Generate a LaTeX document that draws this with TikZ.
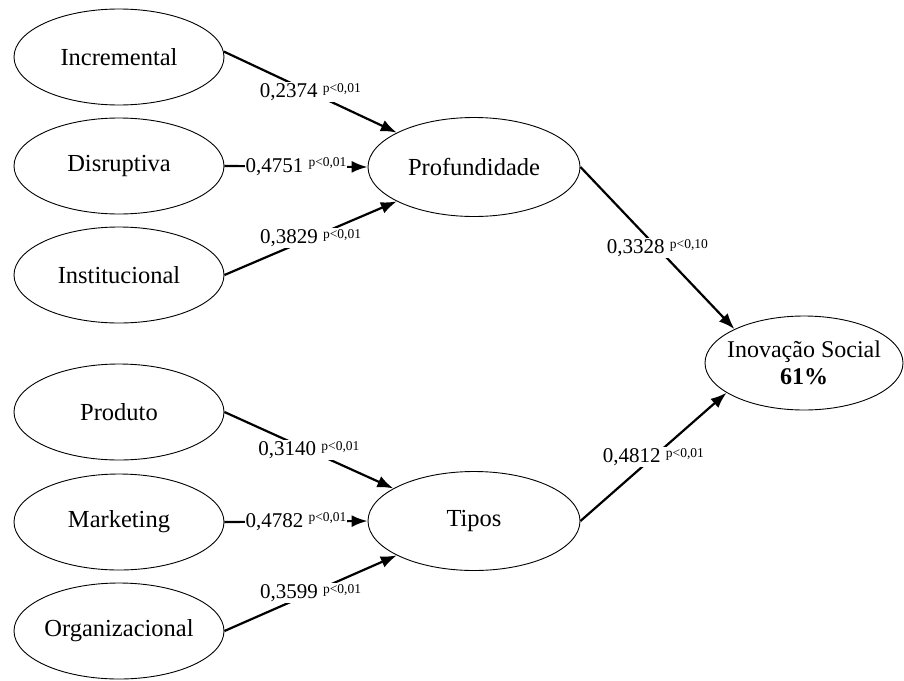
\documentclass[tikz,border=0pt]{standalone}
\usepackage{fontspec}
\setmainfont{Liberation Serif}
\usetikzlibrary{shapes.geometric,arrows.meta}
\begin{document}
\begin{tikzpicture}[x=1pt,y=-1pt,
  lat/.style={ellipse,draw=black,line width=0.9pt,minimum width=210pt,minimum height=96pt,inner xsep=-2pt,inner ysep=0pt,font=\fontsize{24.5}{28}\selectfont},
  mid/.style={ellipse,draw=black,line width=0.9pt,minimum width=212pt,minimum height=99pt,inner sep=0pt,font=\fontsize{24.5}{28}\selectfont},
  conn/.style={line width=2.2pt,-{Latex[length=16pt,width=12pt]}},
  coef/.style={fill=white,inner sep=1pt,font=\fontsize{21}{24}\selectfont}]
\useasboundingbox (0,0) rectangle (904,680);
\newcommand{\pv}[1]{\raisebox{0.55ex}{\fontsize{13.5}{13.5}\selectfont #1}}
\node[lat] (inc) at (119,57) {Incremental};
\node[lat] (dis) at (119,166) {Disruptiva};
\node[lat] (ins) at (119,275) {Institucional};
\node[lat] (prod) at (119,412) {Produto};
\node[lat] (mkt) at (119,522) {Marketing};
\node[lat] (org) at (119,631) {Organizacional};
\node[mid] (prof) at (474,167) {Profundidade};
\node[mid] (tip) at (474,521) {Tipos};
\node[ellipse,draw=black,line width=0.9pt,minimum width=198pt,minimum height=94pt,inner xsep=-8pt,inner ysep=0pt,align=center,font=\fontsize{24}{27}\selectfont] (ino) at (804,363) {Inovação Social\\\textbf{61\%}};
\draw[conn] (inc.3) -- node[coef,pos=0.5] {0,2374 \pv{p<0,01}} (prof.156);
\draw[conn] (dis.east) -- node[coef,pos=0.5] {0,4751 \pv{p<0,01}} (prof.west);
\draw[conn] (ins.east) -- node[coef,pos=0.5] {0,3829 \pv{p<0,01}} (prof.204);
\draw[conn] (prod.east) -- node[coef,pos=0.5] {0,3140 \pv{p<0,01}} (tip.158);
\draw[conn] (mkt.east) -- node[coef,pos=0.5] {0,4782 \pv{p<0,01}} (tip.west);
\draw[conn] (org.east) -- node[coef,pos=0.5] {0,3599 \pv{p<0,01}} (tip.204);
\draw[conn] (prof.east) -- node[coef,pos=0.5] {0,3328 \pv{p<0,10}} (ino.154);
\draw[conn] (tip.east) -- node[coef,pos=0.5] {0,4812 \pv{p<0,01}} (ino.201);
\end{tikzpicture}
\end{document}
